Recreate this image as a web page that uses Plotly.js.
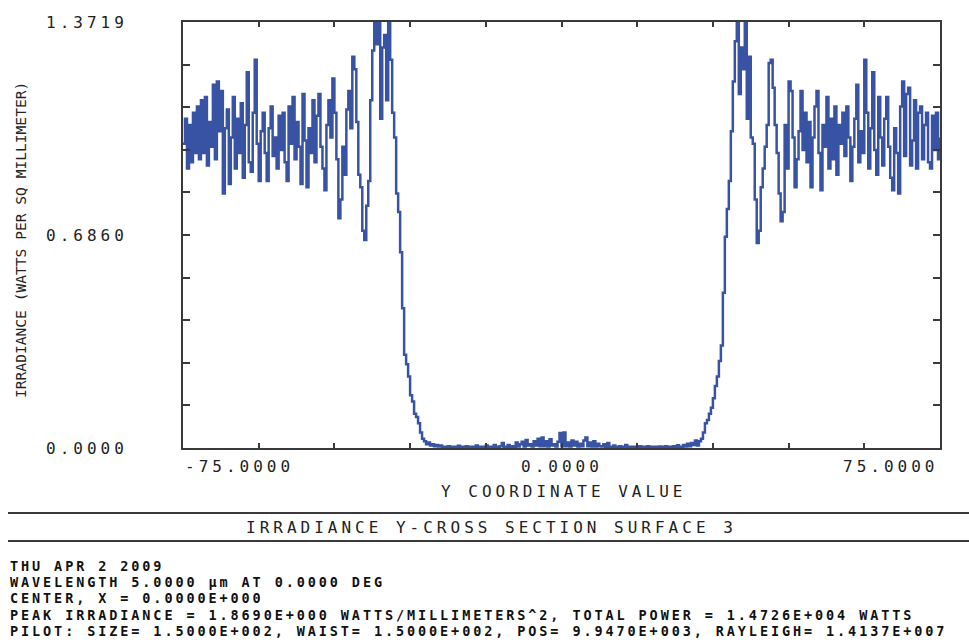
<!DOCTYPE html>
<html>
<head>
<meta charset="utf-8">
<script src="https://cdn.plot.ly/plotly-3.0.1.min.js"></script>
<style>
  html, body { margin: 0; padding: 0; background: #fff; }
  #chart { width: 969px; height: 642px; }
</style>
</head>
<body>
<div id="chart"></div>
<script>
// ---- data (irradiance along Y, sampled every 0.5 from -95 to 95) ----
const yStart = -95;
const yStep = 0.5;
const irradiance = [
  0.98, 1.06, 0.90, 1.04, 0.92, 1.08, 0.95, 1.10, 0.93, 1.12,
  0.95, 1.13, 0.91, 1.05, 0.97, 1.17, 0.93, 1.18, 1.02, 1.15,
  0.82, 1.03, 1.09, 0.85, 1.00, 1.13, 0.90, 1.06, 0.95, 1.11,
  0.87, 1.04, 1.21, 0.92, 0.89, 1.08, 1.25, 0.98, 0.86, 1.02,
  1.08, 0.95, 0.86, 1.03, 1.10, 0.94, 1.00, 0.90, 1.07, 0.96,
  1.08, 0.92, 0.86, 1.10, 0.98, 1.13, 0.93, 1.05, 0.97, 0.85,
  1.14, 0.99, 0.84, 1.03, 0.95, 1.12, 0.92, 1.07, 1.14, 0.97,
  0.90, 0.83, 1.04, 1.12, 1.00, 1.19, 1.08, 0.93, 0.74, 0.80,
  0.97, 0.88, 1.09, 1.15, 1.03, 1.26, 1.22, 1.05, 0.88, 0.84,
  0.70, 0.67, 0.78, 0.86, 1.12, 1.28, 1.3719, 1.30, 1.3719, 1.06,
  1.29, 1.33, 1.12, 1.3719, 1.25, 1.08, 1.00, 0.82, 0.76, 0.63,
  0.45, 0.30, 0.27, 0.23, 0.17, 0.15, 0.11, 0.10, 0.08, 0.05,
  0.030, 0.022, 0.012, 0.018, 0.008, 0.012, 0.006, 0.010, 0.005, 0.008,
  0.004, 0.004, 0.004, 0.006, 0.004, 0.004, 0.004, 0.004, 0.007, 0.004,
  0.004, 0.004, 0.006, 0.004, 0.004, 0.004, 0.004, 0.008, 0.004, 0.004,
  0.004, 0.004, 0.008, 0.004, 0.004, 0.004, 0.010, 0.004, 0.004, 0.006,
  0.016, 0.004, 0.004, 0.010, 0.004, 0.006, 0.004, 0.018, 0.005, 0.012,
  0.020, 0.005, 0.026, 0.008, 0.012, 0.005, 0.022, 0.008, 0.030, 0.006,
  0.034, 0.006, 0.022, 0.005, 0.028, 0.008, 0.012, 0.005, 0.020, 0.048,
  0.006, 0.050, 0.006, 0.018, 0.005, 0.024, 0.008, 0.020, 0.005, 0.014,
  0.006, 0.024, 0.034, 0.006, 0.018, 0.005, 0.022, 0.005, 0.014, 0.006,
  0.005, 0.012, 0.004, 0.016, 0.004, 0.004, 0.008, 0.004, 0.004, 0.006,
  0.004, 0.004, 0.010, 0.004, 0.004, 0.004, 0.004, 0.004, 0.004, 0.006,
  0.004, 0.004, 0.004, 0.006, 0.004, 0.004, 0.004, 0.004, 0.004, 0.005,
  0.004, 0.004, 0.006, 0.004, 0.004, 0.004, 0.006, 0.004, 0.009, 0.004,
  0.004, 0.010, 0.005, 0.014, 0.006, 0.016, 0.010, 0.024, 0.008, 0.022,
  0.03, 0.05, 0.08, 0.09, 0.11, 0.13, 0.16, 0.20, 0.23, 0.28,
  0.33, 0.50, 0.68, 0.77, 0.86, 1.02, 1.18, 1.31, 1.3719, 1.14,
  1.29, 1.22, 1.3719, 1.06, 1.26, 1.00, 0.98, 0.80, 0.66, 0.70,
  0.84, 0.90, 0.97, 1.04, 1.24, 1.25, 1.16, 1.04, 0.95, 0.82,
  0.73, 0.76, 1.04, 0.90, 1.18, 1.15, 1.00, 0.84, 0.93, 1.02,
  1.15, 0.96, 1.08, 0.92, 1.05, 0.84, 1.00, 1.10, 1.15, 0.95,
  0.83, 1.04, 0.97, 1.13, 0.90, 1.06, 0.93, 1.10, 0.88, 1.04,
  0.98, 1.08, 0.94, 1.10, 1.00, 0.86, 0.97, 1.06, 1.17, 0.92,
  1.02, 0.95, 1.25, 1.08, 0.90, 1.03, 1.21, 0.96, 0.88, 1.13,
  1.00, 0.91, 1.06, 1.13, 0.97, 0.87, 0.83, 1.03, 0.95, 0.82,
  1.10, 1.18, 0.94, 1.14, 1.16, 0.91, 0.99, 1.12, 0.90, 1.08,
  1.10, 0.93, 1.04, 1.08, 0.92, 0.90, 1.07, 0.96, 1.08, 0.93,
  1.00
];
const xRange = [-95, 95];
const yRange = [0, 1.3719];
const xTickMarks = [-76, -57, -38, -19, 0, 19, 38, 57, 76];
const xTickLabels = ['-75.0000', '0.0000', '75.0000'];
const yTickLabelValues = [0, 0.6860, 1.3719];
const yTickLabels = ['0.0000', '0.6860', '1.3719'];
const plotTitle = 'IRRADIANCE Y-CROSS SECTION SURFACE 3';
const xTitle = 'Y COORDINATE VALUE';
const yTitle = 'IRRADIANCE (WATTS PER SQ MILLIMETER)';
const infoLines = [
  'THU APR 2 2009',
  'WAVELENGTH 5.0000 \u00b5m AT 0.0000 DEG',
  'CENTER, X = 0.0000E+000',
  'PEAK IRRADIANCE = 1.8690E+000 WATTS/MILLIMETERS^2, TOTAL POWER = 1.4726E+004 WATTS',
  'PILOT: SIZE= 1.5000E+002, WAIST= 1.5000E+002, POS= 9.9470E+003, RAYLEIGH= 1.4137E+007'
];

// ---- build ----
const xs = irradiance.map((_, i) => yStart + i * yStep);
const mono = 'DejaVu Sans Mono, monospace';
const ink = '#222222';
const frame = '#3a3a3a';
const wide = s => '<span style="letter-spacing:4px">' + s + '</span>';

// plot-area geometry (pixels) for text placement
const L = 183, R = 940, T = 22, B = 448;
const W = R - L, H = B - T;
const px = x => (x - L) / W;
const py = y => (B - y) / H;

// y ticks: ten divisions, labels only at bottom, middle, top
const yTickVals = [];
const yTickText = [];
for (let k = 0; k <= 10; k++) {
  const v = yRange[1] * k / 10;
  yTickVals.push(v);
  const j = yTickLabelValues.findIndex(t => Math.abs(t - v) < 0.001);
  yTickText.push(j >= 0 ? wide(yTickLabels[j]) : '');
}

const trace = {
  x: xs, y: irradiance, type: 'scatter', mode: 'lines',
  line: { color: '#3953a4', width: 2.5, shape: 'hv' },
  hoverinfo: 'skip'
};

const annotations = [
  { text: wide(xTickLabels[0]), x: 0, xanchor: 'left', y: py(466), yanchor: 'middle' },
  { text: wide(xTickLabels[1]), x: 0.5, xanchor: 'center', y: py(466), yanchor: 'middle' },
  { text: wide(xTickLabels[2]), x: 1, xanchor: 'right', y: py(466), yanchor: 'middle' },
  { text: wide(xTitle), x: px(563), xanchor: 'center', y: py(491), yanchor: 'middle' },
  { text: wide(plotTitle), x: px(491), xanchor: 'center', y: py(527), yanchor: 'middle' }
].map(a => Object.assign({ xref: 'paper', yref: 'paper', showarrow: false,
  font: { family: mono, size: 16, color: ink } }, a));

const infoY = [566, 582, 598, 615, 631];
infoLines.forEach((s, i) => {
  annotations.push({
    xref: 'paper', yref: 'paper', showarrow: false,
    text: '<span style="letter-spacing:2.9px">' + s + '</span>',
    x: px(8), xanchor: 'left', y: py(infoY[i]), yanchor: 'middle',
    font: { family: mono, size: 13.5, color: '#111111', weight: 'bold' }
  });
});

annotations.push({
  xref: 'paper', yref: 'paper', showarrow: false,
  text: yTitle, textangle: -90,
  x: px(20), xanchor: 'center', y: py(240), yanchor: 'middle',
  font: { family: mono, size: 14.6, color: ink }
});

const layout = {
  width: 969, height: 642,
  margin: { l: L, r: 969 - R, t: T, b: 642 - B, pad: 0 },
  paper_bgcolor: '#ffffff', plot_bgcolor: '#ffffff',
  showlegend: false,
  xaxis: {
    range: xRange, tickmode: 'array', tickvals: xTickMarks,
    ticks: 'inside', ticklen: 5, tickwidth: 2, tickcolor: frame,
    showticklabels: false, showline: true, linecolor: frame, linewidth: 2,
    mirror: 'ticks', showgrid: false, zeroline: false
  },
  yaxis: {
    range: yRange, tickmode: 'array', tickvals: yTickVals, ticktext: yTickText,
    ticks: 'inside', ticklen: 7, tickwidth: 2, tickcolor: frame,
    tickfont: { family: mono, size: 16, color: ink },
    ticklabelstandoff: 50,
    showline: true, linecolor: frame, linewidth: 2,
    mirror: 'ticks', showgrid: false, zeroline: false
  },
  shapes: [
    { type: 'line', xref: 'paper', yref: 'paper', x0: px(8), x1: px(969), y0: py(513), y1: py(513),
      line: { color: frame, width: 2 } },
    { type: 'line', xref: 'paper', yref: 'paper', x0: px(8), x1: px(969), y0: py(541), y1: py(541),
      line: { color: frame, width: 2 } }
  ],
  annotations: annotations
};

Plotly.newPlot('chart', [trace], layout, { displayModeBar: false, staticPlot: true });
</script>
</body>
</html>
